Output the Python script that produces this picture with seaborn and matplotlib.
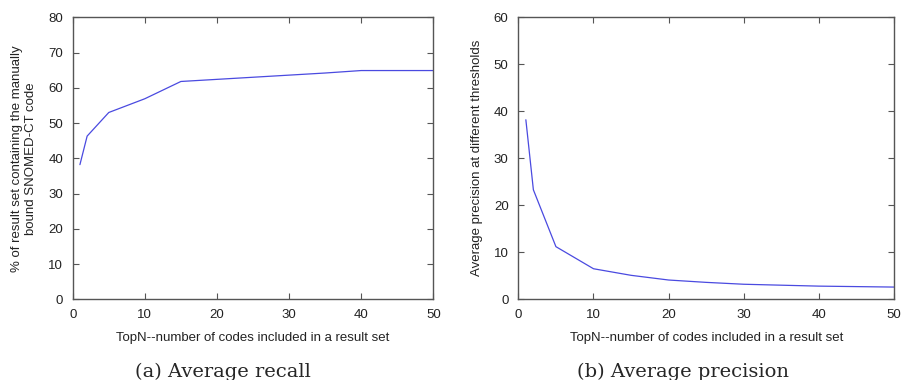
import matplotlib
matplotlib.use('Agg')
import matplotlib.pyplot as plt
import seaborn as sns
import pandas as pd

# ─── Data ────────────────────────────────────────────────────
top_n = [1, 2, 5, 10, 15, 20, 25, 30, 35, 40, 45, 50]
recall = [38.2, 46.3, 53.0, 56.9, 61.8, 62.4, 63.0, 63.6, 64.2, 64.9, 64.9, 64.9]
precision = [38.2, 23.3, 11.2, 6.5, 5.1, 4.1, 3.6, 3.2, 3.0, 2.8, 2.7, 2.6]

xlabel = 'TopN--number of codes included in a result set'
recall_ylabel = '% of result set containing the manually\nbound SNOMED-CT code'
precision_ylabel = 'Average precision at different thresholds'
captions = ['(a) Average recall', '(b) Average precision']

sns.set_style('ticks')
plt.rcParams['font.family'] = ['Liberation Sans', 'DejaVu Sans']

line_color = '#4a4ae0'
frame_color = '#555555'
text_color = '#222222'

df = pd.DataFrame({'topn': top_n, 'recall': recall, 'precision': precision})

fig = plt.figure(figsize=(9.01, 3.8), dpi=100)
ax1 = fig.add_axes([0.0807, 0.2124, 0.4002, 0.742])
ax2 = fig.add_axes([0.5753, 0.2124, 0.4170, 0.742])


def style_axis(ax, ymax, ylabel):
    ax.set_xlim(0, 50)
    ax.set_ylim(0, ymax)
    ax.set_xticks(range(0, 51, 10))
    ax.set_yticks(range(0, ymax + 1, 10))
    ax.tick_params(direction='in', length=4, width=0.8, color=frame_color,
                   top=True, right=True, labelsize=9.5, labelcolor=text_color)
    ax.tick_params(axis='x', pad=7)
    ax.tick_params(axis='y', pad=7)
    for s in ax.spines.values():
        s.set_color(frame_color)
        s.set_linewidth(1.0)
    ax.set_xlabel(xlabel, fontsize=9.5, color=text_color, labelpad=8)
    ax.set_ylabel(ylabel, fontsize=9.5, color=text_color, labelpad=8)


sns.lineplot(data=df, x='topn', y='recall', ax=ax1, color=line_color, linewidth=0.9)
style_axis(ax1, 80, recall_ylabel)

sns.lineplot(data=df, x='topn', y='precision', ax=ax2, color=line_color, linewidth=0.9)
style_axis(ax2, 60, precision_ylabel)

fig.text(222.5 / 901, 0.008, captions[0], ha='center', va='baseline',
         fontsize=14, family='DejaVu Serif')
fig.text(683 / 901, 0.008, captions[1], ha='center', va='baseline',
         fontsize=14, family='DejaVu Serif')

fig.savefig('out.png', dpi=100)
plt.close(fig)
